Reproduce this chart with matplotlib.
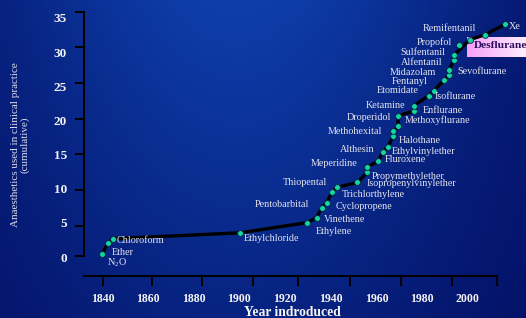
import numpy as np
import matplotlib
matplotlib.use("Agg")
import matplotlib.pyplot as plt

# data (year introduced, cumulative count)
drugs = [r"N$_{\mathrm{2}}$O", "Ether", "Chloroform", "Ethylchloride", "Ethylene",
         "Vinethene", "Cyclopropene", "Pentobarbital", "Trichlorthylene", "Thiopental",
         "Isopropenylvinylether", "Propymethylether", "Meperidine", "Fluroxene",
         "Ethylvinylether", "Althesin", "Halothane", "Methohexital", "Methoxyflurane",
         "Droperidol", "Enflurane", "Ketamine", "Isoflurane", "Etomidate", "Fentanyl",
         "Midazolam", "Sevoflurane", "Alfentanil", "Sulfentanil", "Propofol",
         "Desflurane", "Remifentanil", "Xe"]
years = [1839.9, 1842.3, 1844.5, 1900.2, 1929.4,
         1933.8, 1936.0, 1938.2, 1940.5, 1942.7,
         1951.7, 1956.1, 1956.1, 1960.7,
         1962.9, 1965.1, 1967.3, 1967.3, 1969.5,
         1969.5, 1976.3, 1976.3, 1982.9, 1985.1, 1989.6,
         1991.8, 1991.8, 1994.0, 1994.0, 1996.3,
         2001.0, 2007.6, 2016.3]
counts = [0.48, 2.01, 2.68, 3.54, 5.02,
          5.74, 7.22, 7.95, 9.47, 10.2,
          10.91, 12.45, 13.21, 14.01,
          15.42, 16.15, 17.67, 18.4, 19.14,
          20.64, 21.38, 22.14, 23.6, 24.35, 25.87,
          26.6, 27.34, 28.84, 29.58, 31.08,
          31.82, 32.55, 34.07]
# Propofol sits a little off the drawn curve
off_curve = ["Propofol"]
highlight = "Desflurane"

xtick_vals = [1840, 1860, 1880, 1900, 1920, 1940, 1960, 1980, 2000]
ytick_vals = [0, 5, 10, 15, 20, 25, 30, 35]

# where each name is written (x, y, alignment)
label_xy = [(1841.8, -0.83, "left"), (1844.0, 0.63, "left"), (1846.2, 2.39, "left"),
            (1902.0, 2.78, "left"), (1933.5, 3.70, "left"), (1937.2, 5.42, "left"),
            (1942.3, 7.36, "left"), (1930.6, 7.72, "right"), (1944.8, 9.18, "left"),
            (1938.5, 10.98, "right"), (1955.8, 10.79, "left"), (1957.9, 11.86, "left"),
            (1951.6, 13.66, "right"), (1963.5, 14.35, "left"), (1966.7, 15.52, "left"),
            (1959.1, 15.81, "right"), (1970.0, 17.03, "left"), (1962.5, 18.45, "right"),
            (1972.2, 20.06, "left"), (1966.3, 20.45, "right"), (1980.3, 21.52, "left"),
            (1972.7, 22.25, "right"), (1985.7, 23.43, "left"), (1978.4, 24.35, "right"),
            (1982.5, 25.67, "right"), (1986.2, 26.98, "right"), (1995.6, 27.13, "left"),
            (1988.9, 28.51, "right"), (1990.4, 30.01, "right"), (1993.3, 31.52, "right"),
            (2002.5, 30.94, "left"), (2003.5, 33.48, "right"), (2018.1, 33.78, "left")]

# tick marks in the original are not lined up with the labels
xmarks = [1840.4, 1861.7, 1883.6, 1905.9, 1925.7, 1948.5, 1970.6, 1993.0, 2012.8]
ymarks = [0.19, 4.58, 9.81, 15.04, 20.25, 25.52, 30.70, 35.83]

plt.rcParams['font.family'] = ['Liberation Serif', 'DejaVu Serif']
plt.rcParams['mathtext.fontset'] = 'custom'
plt.rcParams['mathtext.rm'] = 'Liberation Serif'

W, H = 526, 318
fig = plt.figure(figsize=(W / 100, H / 100), dpi=100)

# blue gradient background
bg = fig.add_axes([0, 0, 1, 1], zorder=-10)
gx, gy = np.meshgrid(np.linspace(0, 1, W), np.linspace(0, 1, H))
f = np.exp(-((gx - 0.45) / 0.5) ** 2) * (1 - 0.55 * gy)
dark = np.array([2, 12, 95]) / 255
bright = np.array([14, 62, 170]) / 255
bg.imshow(dark + f[..., None] * (bright - dark), aspect='auto')
bg.axis('off')

# pink box behind "Desflurane"
bx = fig.add_axes([466.7 / W, 1 - 57 / H, (W - 466.7) / W, 20.5 / H], zorder=0.5)
grad = np.linspace(0, 1, 60)[None, :, None]
pink = np.array([248, 160, 248]) / 255
white = np.array([255, 238, 255]) / 255
bx.imshow(pink + grad * (white - pink), aspect='auto')
bx.axis('off')

ax = fig.add_axes([84.3 / W, 42 / H, (497 - 84.3) / W, (276 - 12.3) / H], zorder=1)
ax.patch.set_alpha(0)
ax.set_xlim(1832.03, 2012.84)
ax.set_ylim(-2.78, 35.83)

cx = [x for x, d in zip(years, drugs) if d not in off_curve]
cy = [y for y, d in zip(counts, drugs) if d not in off_curve]
ax.plot(cx, cy, color='black', lw=2.4, solid_joinstyle='round',
        solid_capstyle='round', clip_on=False, zorder=2)
ax.plot(years, counts, 'o', color='#12d6a0', mec='#062040', mew=0.6, ms=4.2,
        clip_on=False, zorder=3)

for d, (lx, ly, ha) in zip(drugs, label_xy):
    if d == highlight:
        ax.text(lx, ly, d, ha=ha, va='center', fontsize=8.2, fontweight='bold',
                color='#2a0f5c', clip_on=False, zorder=4)
    else:
        ax.text(lx, ly, d, ha=ha, va='center', fontsize=7.3, color='#e4e4ee',
                clip_on=False, zorder=4)

for s in ['top', 'right']:
    ax.spines[s].set_visible(False)
for s in ['left', 'bottom']:
    ax.spines[s].set_linewidth(1.4)
    ax.spines[s].set_color('black')
ax.spines['left'].set_bounds(ymarks[0], ymarks[-1])

ax.set_xticks(xtick_vals)
ax.set_xticks(xmarks, minor=True)
ax.set_yticks(ytick_vals)
ax.set_yticks(ymarks, minor=True)
ax.tick_params(axis='x', which='major', length=0, pad=12.5, labelsize=8.5,
               labelcolor='#f4f4f4')
ax.tick_params(axis='y', which='major', length=0, pad=12.5, labelsize=9.5,
               labelcolor='#f4f4f4')
ax.tick_params(axis='x', which='minor', length=7.5, width=1.4, color='black')
ax.tick_params(axis='y', which='minor', length=6.5, width=1.4, color='black')
for t in ax.get_xticklabels() + ax.get_yticklabels():
    t.set_fontweight('bold')

fig.text(20 / W, 1 - 145 / H, "Anaesthetics used in clinical practice\n(cumulative)",
         rotation=90, ha='center', va='center', fontsize=8, color='#dcdce6',
         linespacing=1.05, multialignment='center')
fig.text(292 / W, 1 - 305.5 / H, "Year indroduced", ha='center', va='top',
         fontsize=9.8, fontweight='bold', color='#f4f4f4')

fig.savefig("out.png", dpi=100)
